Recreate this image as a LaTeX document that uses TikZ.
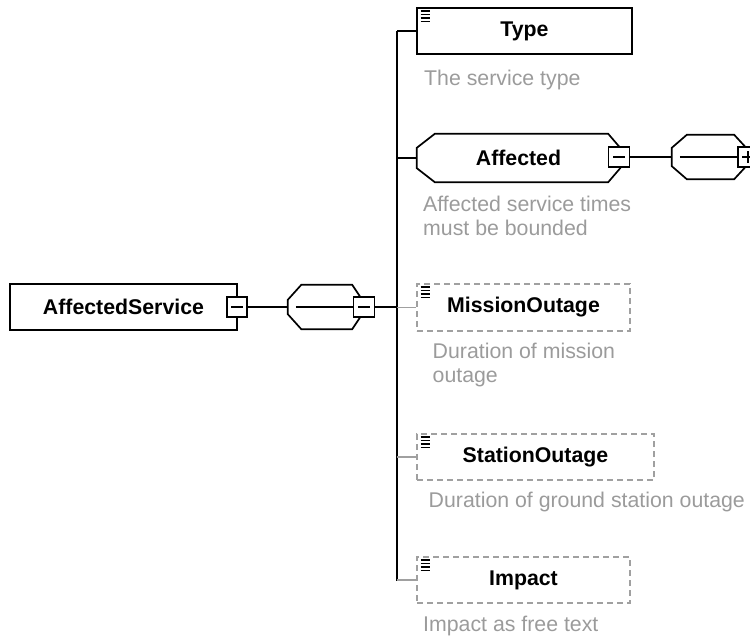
\documentclass[tikz,border=0pt]{standalone}
\usepackage{fontspec}
\setmainfont{Liberation Sans}
\usetikzlibrary{calc}
\definecolor{descgray}{RGB}{155,155,155}
\definecolor{optgray}{RGB}{160,160,160}
\tikzset{
  elembox/.style={draw=black, line width=1.7pt, inner sep=0pt, font=\fontsize{21.3}{24}\selectfont\bfseries},
  optbox/.style={draw=optgray, line width=1.7pt, dash pattern=on 6pt off 4pt, inner sep=0pt, font=\fontsize{21.3}{24}\selectfont\bfseries},
  ctrlbox/.style={draw=black, line width=1.7pt, fill=white, minimum width=20pt, minimum height=20pt, inner sep=0pt},
  seqshape/.style={inner sep=0pt},
  desc/.style={anchor=base west, text=descgray, inner sep=0pt, font=\fontsize{21.3}{24}\selectfont},
  conn/.style={line width=1.7pt, draw=black},
  optconn/.style={line width=1.7pt, draw=optgray},
}
% octagon outline around a node: #1 node, #2 left chamfer, #3 right chamfer, #4 vertical chamfer
\newcommand\octoutline[4]{%
  \draw[line width=1.7pt] ([xshift=#2]#1.north west) -- ([xshift=-#3]#1.north east)
    -- ([yshift=-#4]#1.north east) -- ([yshift=#4]#1.south east)
    -- ([xshift=-#3]#1.south east) -- ([xshift=#2]#1.south west)
    -- ([yshift=#4]#1.south west) -- ([yshift=-#4]#1.north west) -- cycle;}
\newcommand\docicon[1]{%
  \foreach \k in {0,1,2,3} {\draw[line width=1.4pt, black] ($(#1.north west)+(4.5,4+3.4*\k)$) -- ++(9,0);}}
\newcommand\minussign[1]{\draw[line width=1.7pt] ([xshift=-6pt]#1.center) -- ([xshift=6pt]#1.center);}
\begin{document}
\begin{tikzpicture}[x=1pt, y=-1pt]
\useasboundingbox (0,0) rectangle (750,642);
\clip (0,0) rectangle (750,642);

% root
\node[elembox, minimum width=227pt, minimum height=46pt] (as) at (123.5,307) {AffectedService\hspace{5pt}};
\node[ctrlbox] (asminus) at (237,307) {};
\minussign{asminus}

% sequence 1
\node[seqshape, minimum width=74pt, minimum height=44pt] (seq1) at (325,307) {};
\octoutline{seq1}{13.5pt}{10pt}{15pt}
\node[ctrlbox, minimum width=21pt, minimum height=20pt] (seq1minus) at (364,307) {};
\minussign{seq1minus}

% spine
\coordinate (sptop) at (397,31);
\coordinate (spbot) at (397,581);
\draw[conn] (sptop) -- (spbot);

% children
\node[elembox, minimum width=215pt, minimum height=46pt] (type) at (524.5,31) {Type};
\docicon{type}
\node[seqshape, minimum width=203pt, minimum height=48pt, font=\fontsize{21.3}{24}\selectfont\bfseries] (aff) at (518.5,158) {Affected};
\octoutline{aff}{18pt}{12pt}{14pt}
\node[ctrlbox, minimum width=21pt, minimum height=20pt] (affminus) at (619,157) {};
\minussign{affminus}

\node[seqshape, minimum width=74pt, minimum height=44pt] (seq2) at (709,157) {};
\octoutline{seq2}{15pt}{12pt}{13pt}
\node[ctrlbox] (seq2plus) at (748,157) {};
\draw[line width=1.7pt] ([xshift=-6pt]seq2plus.center) -- ([xshift=6pt]seq2plus.center);
\draw[line width=1.7pt] ([yshift=-6pt]seq2plus.center) -- ([yshift=6pt]seq2plus.center);

\node[optbox, minimum width=213pt, minimum height=47pt] (mo) at (523.5,307.5) {MissionOutage};
\docicon{mo}
\node[optbox, minimum width=237pt, minimum height=46pt] (so) at (535.5,457) {StationOutage};
\docicon{so}
\node[optbox, minimum width=213pt, minimum height=46pt] (imp) at (523.5,580) {Impact};
\docicon{imp}

% connectors
\draw[conn] (asminus.east) -- (seq1.west);
\draw[conn] ([xshift=8pt]seq1.west) -- (seq1minus.west);
\draw[conn] (seq1minus.east) -- (seq1minus.east -| sptop);
\draw[conn] (sptop) -- (type.west);
\draw[conn] (aff.west -| sptop) -- (aff.west);
\draw[conn] (affminus.east) -- (seq2.west);
\draw[conn] ([xshift=8pt]seq2.west) -- (seq2plus.west);
\draw[optconn] (mo.west -| sptop) -- (mo.west);
\draw[optconn] (so.west -| sptop) -- (so.west);
\draw[optconn] (imp.west -| sptop) -- (imp.west);

% descriptions
\node[desc] (dtype) at (424,85) {The service type};
\node[desc] (daff1) at (423,211.5) {Affected service times};
\node[desc] (daff2) at (423,235) {must be bounded};
\node[desc] (dmo1) at (432.5,358) {Duration of mission};
\node[desc] (dmo2) at (432.5,382) {outage};
\node[desc] (dso) at (428.5,507) {Duration of ground station outage};
\node[desc] (dimp) at (423,631.5) {Impact as free text};
\end{tikzpicture}
\end{document}
